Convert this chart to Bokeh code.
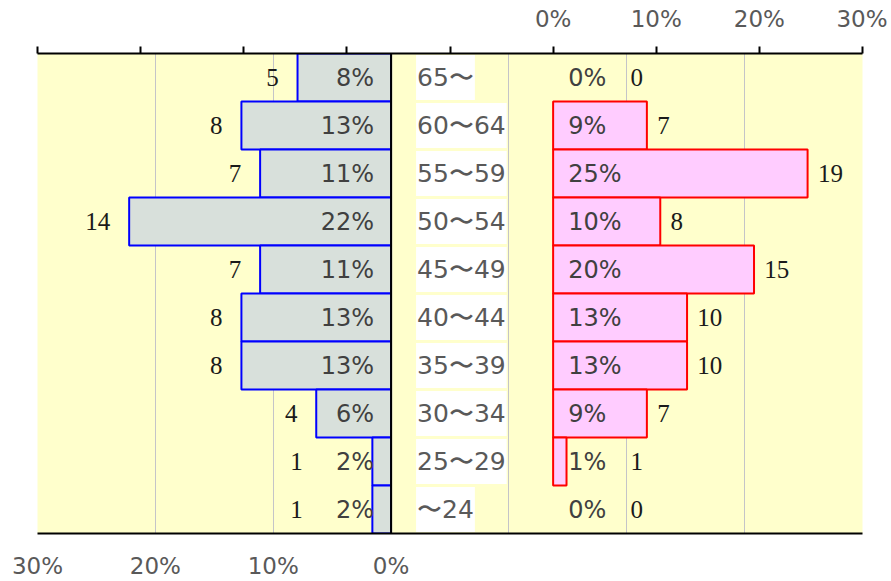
from bokeh.plotting import figure
from bokeh.models import (Range1d, FactorRange, LinearAxis, FixedTicker, Span,
                          ColumnDataSource, CDSView, BooleanFilter)
from bokeh.core.properties import value
from bokeh.embed import file_html
from bokeh.resources import INLINE

# ---- data (top row first) ----
age_groups = ["65〜", "60〜64", "55〜59", "50〜54", "45〜49",
              "40〜44", "35〜39", "30〜34", "25〜29", "〜24"]
left_counts = [5, 8, 7, 14, 7, 8, 8, 4, 1, 1]
right_counts = [0, 7, 19, 8, 15, 10, 10, 7, 1, 0]
left_pct_labels = ["8%", "13%", "11%", "22%", "11%", "13%", "13%", "6%", "2%", "2%"]
right_pct_labels = ["0%", "9%", "25%", "10%", "20%", "13%", "13%", "9%", "1%", "0%"]
left_ticks = [-30, -20, -10, 0]
left_tick_labels = {-30: "30%", -20: "20%", -10: "10%", 0: "0%"}
right_ticks = [-50, -40, -30, -20, -10, 0, 10, 20, 30]
right_tick_labels = {-50: "", -40: "", -30: "", -20: "", -10: "",
                     0: "0%", 10: "10%", 20: "20%", 30: "30%"}

lt = sum(left_counts)
rt = sum(right_counts)
left_pct = [c / lt * 100 for c in left_counts]
right_pct = [c / rt * 100 for c in right_counts]

src = ColumnDataSource(dict(
    cat=age_groups,
    lneg=[-v for v in left_pct],
    rpos=right_pct,
    lpct_txt=left_pct_labels,
    rpct_txt=right_pct_labels,
    lcnt=[str(c) for c in left_counts],
    rcnt=[str(c) for c in right_counts],
    lcnt_x=[-max(v + 1.6, 7.5) for v in left_pct],
    rcnt_x=[max(v + 1.0, 7.5) for v in right_pct],
    zero=[0] * len(age_groups),
))
left_view = CDSView(filter=BooleanFilter([c > 0 for c in left_counts]))
right_view = CDSView(filter=BooleanFilter([c > 0 for c in right_counts]))

W, H = 887, 581
p = figure(width=W, height=H, output_backend="svg", toolbar_location=None,
           x_range=Range1d(-30, 40),
           y_range=FactorRange(factors=list(reversed(age_groups)), range_padding=0),
           y_axis_location=None, x_axis_location="below",
           min_border_left=37, min_border_right=25, min_border_top=53,
           min_border_bottom=45)
p.extra_x_ranges = {"right": Range1d(-50, 30)}
p.background_fill_color = "#FFFFCC"
p.outline_line_color = None
p.ygrid.visible = False
p.xgrid.ticker = FixedTicker(ticks=[-30, -20, -10, 10, 20, 30, 40])
p.xgrid.grid_line_color = "#C4C4C8"
p.xgrid.grid_line_width = 1

# bottom axis
ax = p.xaxis[0]
ax.ticker = FixedTicker(ticks=left_ticks)
ax.major_label_overrides = left_tick_labels
ax.major_tick_line_color = None
ax.major_tick_out = 0
ax.major_tick_in = 0
ax.minor_tick_line_color = None
ax.axis_line_color = "black"
ax.axis_line_width = 2
ax.major_label_text_font = "DejaVu Sans"
ax.major_label_text_font_size = "23px"
ax.major_label_text_color = "#595959"
ax.major_label_standoff = 19

# top axis
top = LinearAxis(x_range_name="right", ticker=FixedTicker(ticks=right_ticks))
top.major_label_overrides = right_tick_labels
top.major_tick_in = 0
top.major_tick_out = 7
top.major_tick_line_width = 2
top.minor_tick_line_color = None
top.axis_line_width = 2
top.major_label_text_font = "DejaVu Sans"
top.major_label_text_font_size = "23px"
top.major_label_text_color = "#595959"
top.major_label_standoff = 15
p.add_layout(top, "above")

# bars
p.hbar(y="cat", left="lneg", right="zero", height=1.0, source=src, view=left_view,
       fill_color="#D8E0DB", line_color="#0000FF", line_width=2)
p.hbar(y="cat", left="zero", right="rpos", height=1.0, source=src, view=right_view,
       x_range_name="right",
       fill_color="#FFCCFF", line_color="#FF0000", line_width=2)

# zero line
p.add_layout(Span(location=0, dimension="height", line_color="black", line_width=2))

# category labels with white boxes
p.text(x="zero", y="cat", text="cat", source=src, x_offset=25,
       text_align="left", text_baseline="middle",
       text_font=value("DejaVu Sans"), text_font_size="25px",
       text_color="#595959",
       background_fill_color="white", padding=(1, 8))

# percent labels
p.text(x="zero", y="cat", text="lpct_txt", source=src, x_offset=-17,
       text_align="right", text_baseline="middle",
       text_font=value("DejaVu Sans"), text_font_size="24px",
       text_color="#404040")
p.text(x="zero", y="cat", text="rpct_txt", source=src, x_offset=15,
       x_range_name="right",
       text_align="left", text_baseline="middle",
       text_font=value("DejaVu Sans"), text_font_size="24px",
       text_color="#404040")

# count labels
p.text(x="lcnt_x", y="cat", text="lcnt", source=src,
       text_align="right", text_baseline="middle",
       text_font=value("Liberation Serif"), text_font_size="25px",
       text_color="#1a1a1a")
p.text(x="rcnt_x", y="cat", text="rcnt", source=src, x_range_name="right",
       text_align="left", text_baseline="middle",
       text_font=value("Liberation Serif"), text_font_size="25px",
       text_color="#1a1a1a")

open("out.html", "w").write(file_html(p, INLINE))
